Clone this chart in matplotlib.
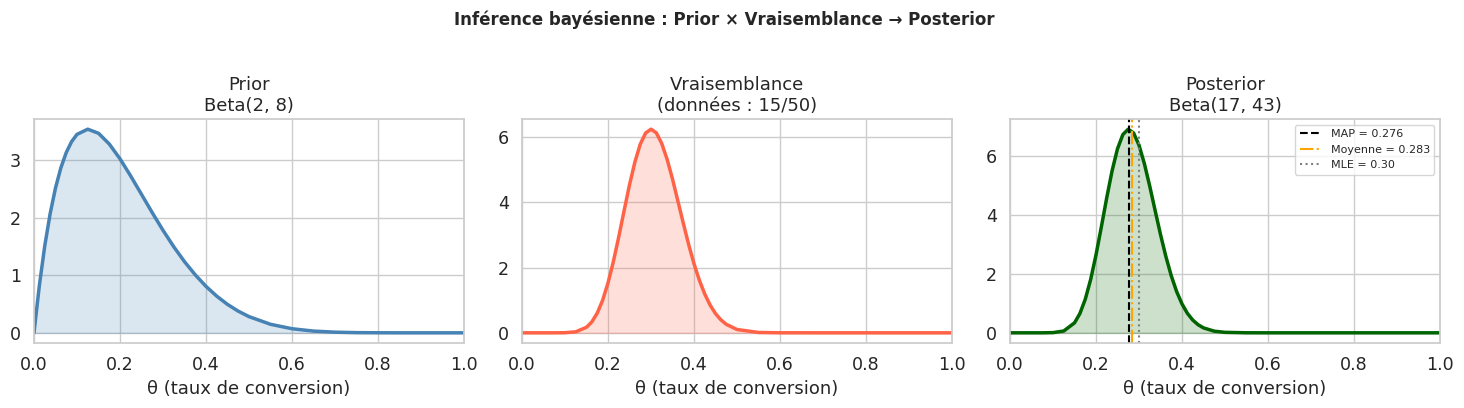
import numpy as np
import matplotlib
matplotlib.use("Agg")
import matplotlib.pyplot as plt
import seaborn as sns

# densités (theta, valeur)
prior_theta = [0.0, 0.0125, 0.025, 0.0375, 0.05, 0.0625, 0.075, 0.0875, 0.1, 0.125, 0.15, 0.175,
               0.2, 0.225, 0.25, 0.275, 0.3, 0.325, 0.35, 0.375, 0.4, 0.425, 0.45, 0.475,
               0.5, 0.55, 0.6, 0.65, 0.7, 0.75, 0.8, 0.85, 0.9, 0.95, 1.0]
prior_dens = [0.0, 0.824, 1.508, 2.066, 2.514, 2.864, 3.129, 3.319, 3.444, 3.534, 3.463, 3.277,
              3.020, 2.720, 2.403, 2.085, 1.779, 1.494, 1.235, 1.006, 0.806, 0.636, 0.493, 0.376,
              0.281, 0.148, 0.071, 0.030, 0.011, 0.003, 0.001, 0.0, 0.0, 0.0, 0.0]

lik_theta = [0.0, 0.05, 0.075, 0.1, 0.125, 0.15, 0.1625, 0.175, 0.1875, 0.2, 0.2125, 0.225,
             0.2375, 0.25, 0.2625, 0.275, 0.2875, 0.3, 0.3125, 0.325, 0.3375, 0.35, 0.3625,
             0.375, 0.3875, 0.4, 0.4125, 0.425, 0.4375, 0.45, 0.4625, 0.475, 0.5, 0.55,
             0.6, 0.7, 0.8, 0.9, 1.0]
lik_dens = [0.0, 0.0, 0.0003, 0.003, 0.031, 0.171, 0.337, 0.606, 0.999, 1.529, 2.187, 2.944,
            3.751, 4.54, 5.239, 5.79, 6.133, 6.25, 6.136, 5.81, 5.324, 4.72, 4.046,
            3.37, 2.713, 2.12, 1.612, 1.19, 0.850, 0.59, 0.399, 0.261, 0.102, 0.011,
            0.001, 0.0, 0.0, 0.0, 0.0]

post_theta = [0.0, 0.05, 0.075, 0.1, 0.125, 0.15, 0.1625, 0.175, 0.1875, 0.2, 0.2125, 0.225,
              0.2375, 0.25, 0.2625, 0.275, 0.2875, 0.3, 0.3125, 0.325, 0.3375, 0.35, 0.3625,
              0.375, 0.3875, 0.4, 0.4125, 0.425, 0.4375, 0.45, 0.475, 0.5, 0.55,
              0.6, 0.7, 0.8, 0.9, 1.0]
post_dens = [0.0, 0.0, 0.0001, 0.006, 0.062, 0.338, 0.653, 1.137, 1.805, 2.643, 3.599, 4.586,
             5.504, 6.245, 6.729, 6.91, 6.779, 6.368, 5.739, 4.975, 4.150, 3.337, 2.589,
             1.938, 1.401, 0.980, 0.662, 0.433, 0.274, 0.167, 0.056, 0.016, 0.001,
             0.0, 0.0, 0.0, 0.0, 0.0]

map_val = 0.276
mean_val = 0.283
mle_val = 0.30

titles = ["Prior\nBeta(2, 8)", "Vraisemblance\n(données : 15/50)", "Posterior\nBeta(17, 43)"]
colors = ["steelblue", "tomato", "darkgreen"]

sns.set_theme(style="whitegrid", font_scale=1.15)

fig = plt.figure(figsize=(14.64, 4.08), dpi=100)
width = 430 / 1464
lefts = [34 / 1464, 522 / 1464, 1010 / 1464]
bottom = 1 - 343 / 408
height = (343 - 119) / 408

series = [(prior_theta, prior_dens), (lik_theta, lik_dens), (post_theta, post_dens)]
axes = []
for i, (th, d) in enumerate(series):
    ax = fig.add_axes([lefts[i], bottom, width, height])
    ax.plot(th, d, color=colors[i], lw=2.5, solid_joinstyle="round")
    ax.fill_between(th, d, color=colors[i], alpha=0.2)
    ax.set_xlim(0, 1)
    ax.set_title(titles[i], fontsize=13)
    ax.set_xlabel("θ (taux de conversion)", fontsize=13)
    axes.append(ax)

ax = axes[2]
ax.axvline(map_val, color="black", ls="--", lw=1.5, label=f"MAP = {map_val:.3f}")
ax.axvline(mean_val, color="orange", ls="-.", lw=1.5, label=f"Moyenne = {mean_val:.3f}")
ax.axvline(mle_val, color="gray", ls=":", lw=1.5, label=f"MLE = {mle_val:.2f}")
ax.legend(fontsize=8, loc="upper right")

fig.suptitle("Inférence bayésienne : Prior × Vraisemblance → Posterior",
             fontsize=12, fontweight="bold", x=0.4945, y=0.975)

fig.savefig("out.png", dpi=100)
